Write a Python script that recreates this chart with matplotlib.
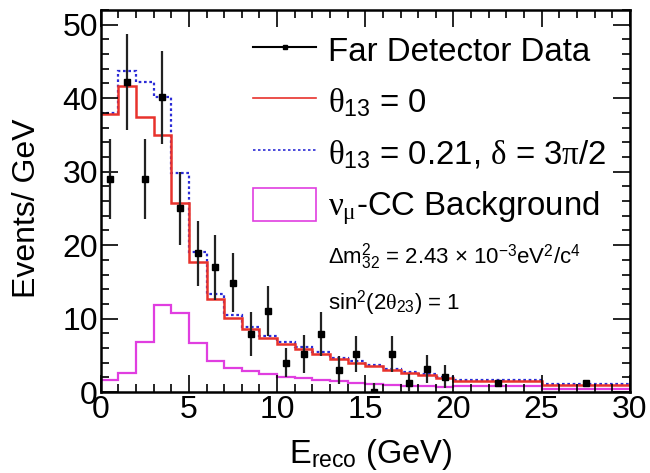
import numpy as np
import matplotlib
matplotlib.use("Agg")
import matplotlib.pyplot as plt
from matplotlib.lines import Line2D
from matplotlib.patches import Patch
from matplotlib.ticker import MultipleLocator

plt.rcParams['font.family'] = ['Liberation Sans', 'DejaVu Sans']
plt.rcParams['mathtext.fontset'] = 'custom'
plt.rcParams['mathtext.rm'] = 'Liberation Sans'
plt.rcParams['mathtext.it'] = 'Liberation Serif'
plt.rcParams['mathtext.bf'] = 'Liberation Sans:bold'

# reconstructed energy binning (GeV): 1 GeV bins up to 20, then two 5 GeV bins
bin_edges = [0, 1, 2, 3, 4, 5, 6, 7, 8, 9, 10, 11, 12, 13, 14, 15, 16, 17, 18,
             19, 20, 25, 30]

# predictions, events / GeV
pred_theta0 = [37.8, 41.6, 37.5, 35.0, 25.7, 17.7, 12.7, 10.1, 8.6, 7.4, 6.6,
               5.9, 5.2, 4.5, 4.0, 3.6, 3.0, 2.6, 2.3, 1.9, 1.5, 1.0]
pred_theta021 = [38.0, 43.7, 42.2, 40.1, 29.8, 19.0, 13.4, 10.5, 8.9, 7.6, 6.8,
                 6.1, 5.4, 4.7, 4.2, 3.7, 3.2, 2.8, 2.5, 2.1, 1.6, 1.1]
numu_cc_bkg = [1.6, 2.6, 6.8, 11.9, 10.7, 6.7, 4.2, 3.3, 2.9, 2.5, 2.1, 1.9,
               1.7, 1.5, 1.3, 1.1, 1.0, 0.9, 0.8, 0.7, 0.8, 0.4]

# far detector data
data_x = [0.5, 1.5, 2.5, 3.5, 4.5, 5.5, 6.5, 7.5, 8.5, 9.5, 10.5, 11.5, 12.5,
          13.5, 14.5, 15.5, 16.5, 17.5, 18.5, 19.5, 22.5, 27.5]
data_y = [29.0, 42.2, 29.0, 40.1, 25.0, 18.9, 17.0, 14.9, 7.9, 11.1, 4.0, 5.2,
          7.9, 3.0, 5.2, 0.0, 5.2, 1.2, 3.1, 2.1, 1.2, 1.2]
data_err = [5.4, 6.5, 5.4, 6.3, 5.0, 4.4, 4.4, 4.0, 3.0, 3.4, 2.0, 2.6, 3.0,
            1.9, 2.5, 1.2, 2.5, 1.2, 1.9, 1.6, 0.5, 0.5]

red = '#e8322c'
blue = '#2b2bd6'
magenta = '#e03ee0'

fig = plt.figure(figsize=(6.5, 4.73), dpi=100)
ax = fig.add_axes([0.155, 0.171, 0.814, 0.808])

ax.stairs(numu_cc_bkg, bin_edges, color=magenta, lw=1.6, baseline=None)
ax.stairs(pred_theta021, bin_edges, color=blue, lw=1.6, ls=(0, (1.2, 1.2)),
          baseline=None)
ax.stairs(pred_theta0, bin_edges, color=red, lw=1.8, baseline=None)

y = np.array(data_y)
err = np.array(data_err)
ax.errorbar(data_x, y, yerr=[np.minimum(err, y), err], fmt='s', color='black',
            ecolor='#222222', ms=4.5, elinewidth=1.6, capsize=0, zorder=5)

ax.set_xlim(0, 30)
ax.set_ylim(0, 52)
ax.xaxis.set_major_locator(MultipleLocator(5))
ax.xaxis.set_minor_locator(MultipleLocator(1))
ax.yaxis.set_major_locator(MultipleLocator(10))
ax.yaxis.set_minor_locator(MultipleLocator(2))
ax.tick_params(which='both', direction='in', top=True, right=True,
               labelsize=23, width=1.2, pad=2)
ax.tick_params(which='major', length=12)
ax.tick_params(which='minor', length=6)
for s in ax.spines.values():
    s.set_linewidth(1.8)

ax.set_xlabel(r'E$_{\mathrm{reco}}$ (GeV)', fontsize=23.5, labelpad=9, x=0.51)
ax.set_ylabel('Events/ GeV', fontsize=23, labelpad=15, y=0.48)

handles = [
    Line2D([], [], color='black', marker='s', ms=3, lw=1.5),
    Line2D([], [], color=red, lw=1.2),
    Line2D([], [], color=blue, lw=1.2, ls=(0, (1.5, 1.5))),
    Patch(facecolor='none', edgecolor=magenta, lw=1.2),
]
labels = [
    'Far Detector Data',
    r'$\theta_{13}$ = 0',
    r'$\theta_{13}$ = 0.21, $\delta$ = 3$\pi$/2',
    r'$\nu_{\mu}$-CC Background',
]
ax.legend(handles, labels, loc='upper left', bbox_to_anchor=(0.263, 0.975),
          frameon=False, fontsize=23.8, handlelength=1.9, handleheight=1.2,
          handletextpad=0.36, labelspacing=0.5, borderaxespad=0)

ax.text(0.43, 0.355,
        r'$\Delta\mathrm{m}^{2}_{32}$ = 2.43 $\times$ 10$^{-3}$eV$^{2}$/c$^{4}$',
        transform=ax.transAxes, fontsize=16, va='center')
ax.text(0.43, 0.232, r'sin$^{2}$(2$\theta_{23}$) = 1',
        transform=ax.transAxes, fontsize=16, va='center')

fig.savefig('out.png', dpi=100)
